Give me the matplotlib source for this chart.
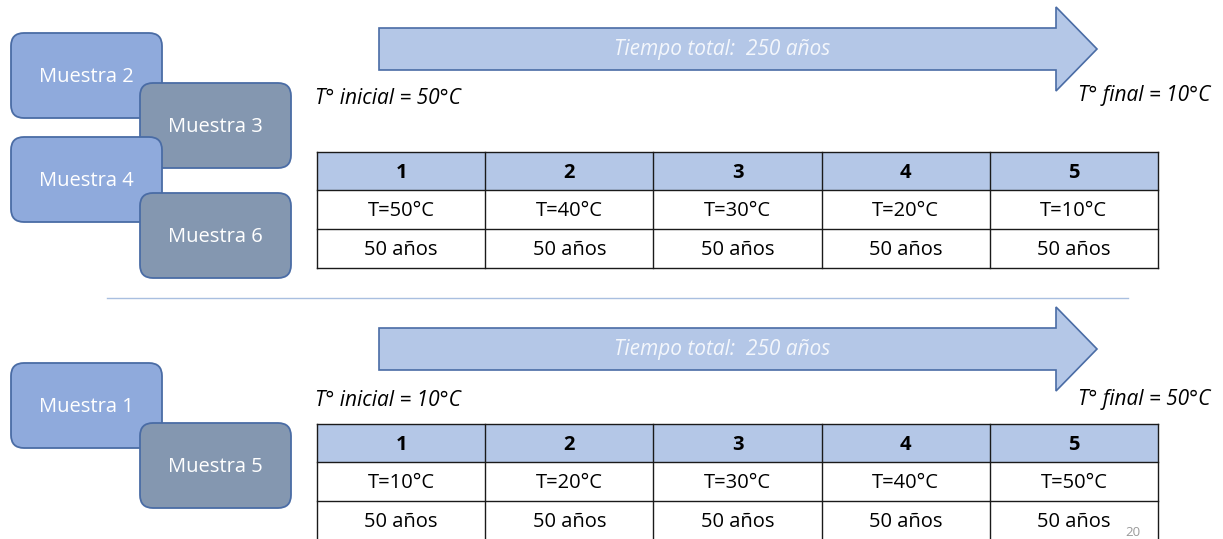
import matplotlib
matplotlib.use("Agg")
import matplotlib.pyplot as plt
from matplotlib.patches import FancyBboxPatch, Polygon, Rectangle

# ---- data ----
steps = ["1", "2", "3", "4", "5"]
temps_top = [50, 40, 30, 20, 10]
temps_bottom = [10, 20, 30, 40, 50]
years = [50, 50, 50, 50, 50]
total_years = 250
samples_top = ["Muestra 2", "Muestra 3", "Muestra 4", "Muestra 6"]
samples_bottom = ["Muestra 1", "Muestra 5"]
page_number = "20"

FONT = "Open Sans"
LIGHT = "#8FAADC"
DARK = "#8497B0"
EDGE = "#4A6CA5"
ARROW_FILL = "#B4C7E7"
HEADER_FILL = "#B4C7E7"

W, H = 1223, 539
fig = plt.figure(figsize=(W / 100, H / 100), dpi=100)
ax = fig.add_axes([0, 0, 1, 1])
ax.set_xlim(0, W)
ax.set_ylim(H, 0)
ax.axis("off")


def box(x, y, w, h, color, label):
    r = 13
    p = FancyBboxPatch((x + r, y + r), w - 2 * r, h - 2 * r,
                       boxstyle=f"round,pad={r}", fc=color, ec=EDGE, lw=1.3)
    ax.add_patch(p)
    ax.text(x + w / 2, y + h / 2 + 1, label, ha="center", va="center",
            color="white", fontsize=14.5, family=FONT)


def arrow(y_mid, label):
    x0, xb, xt = 379, 1056, 1097
    hb, hh = 21, 42
    pts = [(x0, y_mid - hb), (xb, y_mid - hb), (xb, y_mid - hh), (xt, y_mid),
           (xb, y_mid + hh), (xb, y_mid + hb), (x0, y_mid + hb)]
    ax.add_patch(Polygon(pts, closed=True, fc=ARROW_FILL, ec=EDGE, lw=1.2))
    ax.text(722, y_mid, label, ha="center", va="center", color="#F4F7FC",
            fontsize=15, style="italic", family=FONT)


def table(y0, temps):
    xs = [317 + i * 168.2 for i in range(len(steps) + 1)]
    rh = [38, 39, 38.5]
    ys = [y0, y0 + rh[0], y0 + rh[0] + rh[1], y0 + sum(rh)]
    ax.add_patch(Rectangle((xs[0], ys[0]), xs[-1] - xs[0], rh[0],
                           fc=HEADER_FILL, ec="none"))
    for yy in ys:
        ax.plot([xs[0], xs[-1]], [yy, yy], color="#1a1a1a", lw=1.0)
    for xx in xs:
        ax.plot([xx, xx], [ys[0], ys[-1]], color="#1a1a1a", lw=1.0)
    for i, s in enumerate(steps):
        cx = (xs[i] + xs[i + 1]) / 2
        ax.text(cx, (ys[0] + ys[1]) / 2 + 2, s, ha="center", va="center",
                fontsize=14.5, weight="bold", family=FONT, color="black")
        ax.text(cx, (ys[1] + ys[2]) / 2 + 2, f"T={temps[i]}°C", ha="center",
                va="center", fontsize=14.5, family=FONT, color="black")
        ax.text(cx, (ys[2] + ys[3]) / 2 + 2, f"{years[i]} años", ha="center",
                va="center", fontsize=14.5, family=FONT, color="black")


# top section
box(11, 33, 151, 85, LIGHT, samples_top[0])
box(140, 83, 151, 85, DARK, samples_top[1])
box(11, 137, 151, 85, LIGHT, samples_top[2])
box(140, 193, 151, 85, DARK, samples_top[3])
arrow(49, f"Tiempo total:  {total_years} años")
ax.text(315, 99, f"T° inicial = {temps_top[0]}°C", ha="left", va="center",
        fontsize=15, style="italic", family=FONT, color="black")
ax.text(1210, 96, f"T° final = {temps_top[-1]}°C", ha="right", va="center",
        fontsize=15, style="italic", family=FONT, color="black")
table(152, temps_top)

# separator
ax.plot([107, 1128], [298, 298], color="#A9BFE0", lw=1.0)

# bottom section
box(11, 363, 151, 85, LIGHT, samples_bottom[0])
box(140, 423, 151, 85, DARK, samples_bottom[1])
arrow(349, f"Tiempo total:  {total_years} años")
ax.text(315, 400, f"T° inicial = {temps_bottom[0]}°C", ha="left", va="center",
        fontsize=15, style="italic", family=FONT, color="black")
ax.text(1210, 400, f"T° final = {temps_bottom[-1]}°C", ha="right", va="center",
        fontsize=15, style="italic", family=FONT, color="black")
table(424, temps_bottom)

ax.text(1133, 533, page_number, ha="center", va="center", fontsize=9.5,
        family=FONT, color="#9a9a9a")

fig.savefig("out.png", dpi=100)
